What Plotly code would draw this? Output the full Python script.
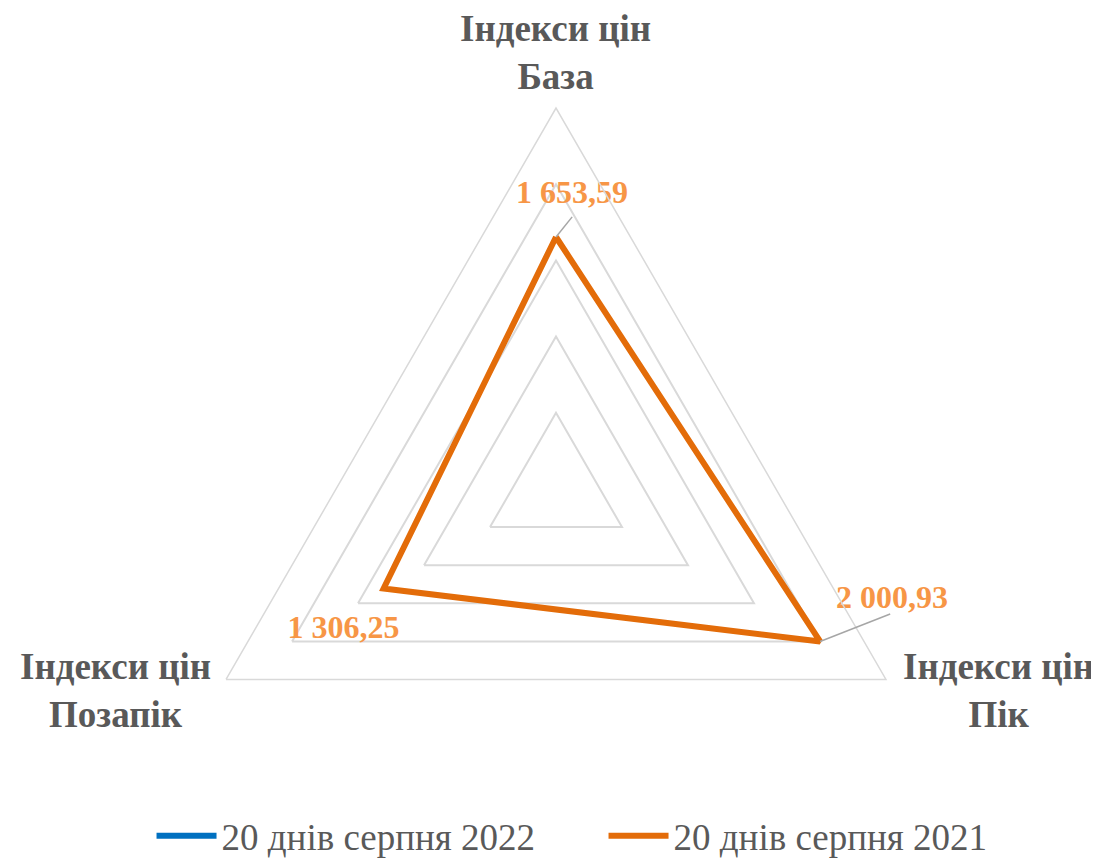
import plotly.graph_objects as go

categories = ["База", "Пік", "Позапік"]
axis_titles = ["Індекси цін<br>База", "Індекси цін<br>Пік", "Індекси цін<br>Позапік"]
series_2022 = [None, None, None]
series_2021 = [1653.59, 2000.93, 1306.25]
labels_2021 = ["1 653,59", "2 000,93", "1 306,25"]

SERIF = "Times New Roman"
cats_closed = categories + [categories[0]]
cat_angles = [0, 120, 240]  # angular position of each category (deg, clockwise from top)

fig = go.Figure()
fig.add_trace(go.Scatterpolar(
    r=series_2022 + [series_2022[0]], theta=cats_closed, mode="lines",
    name="20 днів серпня 2022", line=dict(color="#0070C0", width=6),
))
fig.add_trace(go.Scatterpolar(
    r=series_2021 + [series_2021[0]], theta=cats_closed, mode="lines",
    name="20 днів серпня 2021", line=dict(color="#E36C09", width=6),
))
NB = "&nbsp;"
padded = [
    "<b>" + NB * 4 + labels_2021[0] + "</b><br>" + NB + "<br>" + NB,
    "<b>" + NB * 2 + labels_2021[1] + "</b><br>" + NB + "<br>" + NB,
    NB + "<br>" + NB + "<br><b>" + labels_2021[2] + NB * 10 + "</b>",
]
fig.add_trace(go.Scatterpolar(
    r=series_2021, theta=categories, mode="text",
    text=padded, textposition=["middle center", "middle right", "middle center"],
    showlegend=False, hoverinfo="skip",
    textfont=dict(family=SERIF, size=32, color="#F79646"),
))

# leader lines from the data points toward their labels (Base and Pik)
leader_offsets = [(135, 3.4), (340, -9.5)]  # (radial, angular) offsets
for i, (dr, dth) in enumerate(leader_offsets):
    fig.add_trace(go.Scatterpolar(
        r=[series_2021[i], series_2021[i] + dr],
        theta=[cat_angles[i], cat_angles[i] + dth],
        mode="lines", line=dict(color="#A6A6A6", width=1.5),
        showlegend=False, hoverinfo="skip", subplot="polar2",
    ))

polar_common = dict(
    domain=dict(x=[0.15196, 0.84531], y=[0.0092, 0.88506]),
    gridshape="linear",
)
fig.update_layout(
    width=1099, height=870,
    margin=dict(l=0, r=0, t=0, b=0),
    paper_bgcolor="white", plot_bgcolor="white",
    font=dict(family=SERIF, color="#595959"),
    polar=dict(
        **polar_common,
        bgcolor="white",
        radialaxis=dict(range=[0, 2500], dtick=500, showticklabels=False,
                        ticks="", showline=False, gridcolor="#D9D9D9", gridwidth=1.5),
        angularaxis=dict(rotation=90, direction="clockwise", showgrid=False,
                         showline=True, linecolor="#D9D9D9", linewidth=1.5, ticks="",
                         showticklabels=False),
    ),
    polar2=dict(
        **polar_common,
        bgcolor="rgba(0,0,0,0)",
        radialaxis=dict(range=[0, 2500], showticklabels=False, ticks="",
                        showline=False, showgrid=False),
        angularaxis=dict(rotation=90, direction="clockwise", showgrid=False,
                         showline=False, ticks="", showticklabels=False),
    ),
    legend=dict(orientation="h", x=0.1306, xanchor="left", y=0.048, yanchor="middle",
                entrywidth=377, itemwidth=60,
                font=dict(family=SERIF, size=37, color="#595959")),
)

ann_pos = [(0.4986, 0.949), (0.9017, 0.216), (0.0974, 0.216)]
for t, (x, y) in zip(axis_titles, ann_pos):
    fig.add_annotation(x=x, y=y, xref="paper", yref="paper", text="<b>" + t + "</b>",
                       showarrow=False, align="center", xanchor="center", yanchor="middle",
                       font=dict(family=SERIF, size=37, color="#595959"))

fig.write_html("out.html")
